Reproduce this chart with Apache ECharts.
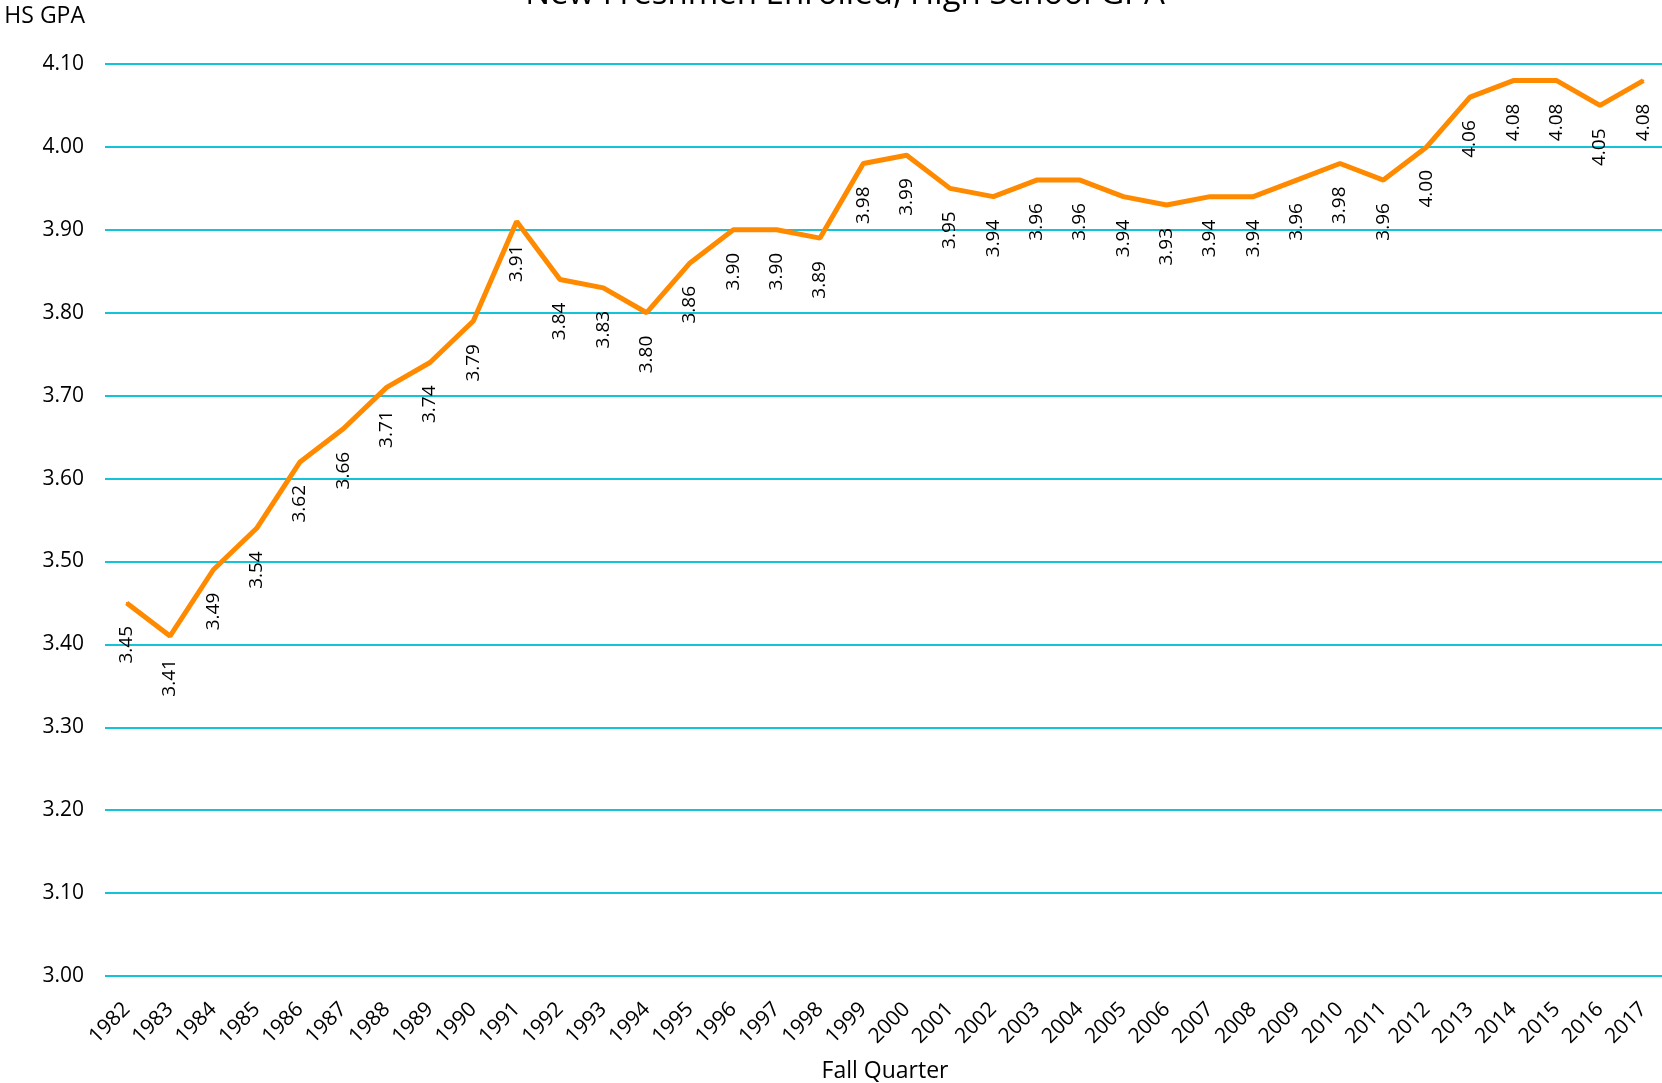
<!DOCTYPE html>
<html>
<head>
<meta charset="utf-8">
<script src="https://cdn.jsdelivr.net/npm/echarts@6/dist/echarts.min.js"></script>
<style>
html,body{margin:0;padding:0;background:#fff;}
#chart{width:1662px;height:1083px;}
</style>
</head>
<body>
<div id="chart"></div>
<script>
var years = ['1982','1983','1984','1985','1986','1987','1988','1989','1990','1991','1992','1993','1994','1995','1996','1997','1998','1999','2000','2001','2002','2003','2004','2005','2006','2007','2008','2009','2010','2011','2012','2013','2014','2015','2016','2017'];
var gpa = [3.45,3.41,3.49,3.54,3.62,3.66,3.71,3.74,3.79,3.91,3.84,3.83,3.80,3.86,3.90,3.90,3.89,3.98,3.99,3.95,3.94,3.96,3.96,3.94,3.93,3.94,3.94,3.96,3.98,3.96,4.00,4.06,4.08,4.08,4.05,4.08];
var yMin = 3.0, yMax = 4.1, yStep = 0.1;

var FONT = 'Open Sans';
var chart = echarts.init(document.getElementById('chart'));
chart.setOption({
  animation: false,
  backgroundColor: '#ffffff',
  textStyle: { fontFamily: FONT },
  title: {
    text: 'New Freshmen Enrolled, High School GPA',
    left: 840,
    textAlign: 'center',
    top: -27,
    textStyle: { fontFamily: FONT, fontSize: 33, fontWeight: 'normal', color: '#000' }
  },
  grid: { left: 105, right: -3, top: 64, bottom: 107, containLabel: false, outerBoundsMode: 'none' },
  xAxis: {
    type: 'category',
    data: years,
    boundaryGap: true,
    name: 'Fall Quarter',
    nameLocation: 'middle',
    nameGap: 84,
    nameTextStyle: { fontFamily: FONT, fontSize: 23, color: '#000' },
    axisLine: { show: false },
    axisTick: { show: false },
    axisLabel: { rotate: 45, fontSize: 21, color: '#000', margin: 30, interval: 0, fontFamily: FONT }
  },
  yAxis: {
    type: 'value',
    min: yMin, max: yMax, interval: yStep,
    name: 'HS GPA',
    nameLocation: 'end',
    nameGap: 36,
    nameTextStyle: { fontFamily: FONT, fontSize: 23, color: '#000', align: 'right', padding: [0, 20, 0, 0] },
    axisLine: { show: false },
    axisTick: { show: false },
    axisLabel: { fontSize: 21, color: '#000', margin: 21, fontFamily: FONT,
      formatter: function (v) { return v.toFixed(2); } },
    splitLine: { show: true, lineStyle: { color: '#14C3D7', width: 2 } }
  },
  series: [{
    type: 'line',
    data: gpa,
    showSymbol: true,
    symbol: 'circle',
    symbolSize: 2,
    itemStyle: { color: '#FF8A00' },
    lineStyle: { color: '#FF8A00', width: 5 },
    label: {
      show: true,
      position: 'bottom',
      distance: 22,
      rotate: 90,
      align: 'right',
      verticalAlign: 'middle',
      fontSize: 19,
      color: '#000',
      fontFamily: FONT,
      formatter: function (p) { return p.value.toFixed(2); }
    },
    labelLayout: { hideOverlap: false }
  }]
});
</script>
</body>
</html>
